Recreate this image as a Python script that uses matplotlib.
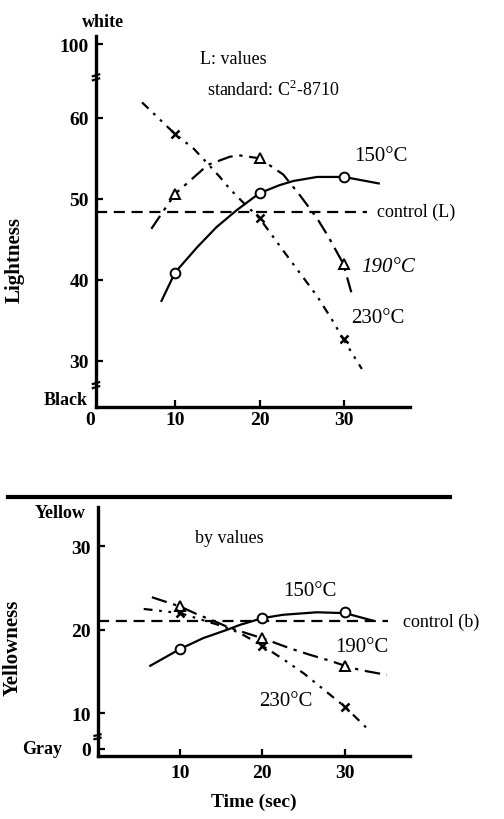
import matplotlib
matplotlib.use("Agg")
import matplotlib.pyplot as plt
from matplotlib.lines import Line2D

plt.rcParams['font.family'] = ['Liberation Serif', 'DejaVu Serif']
plt.rcParams['mathtext.fontset'] = 'custom'
plt.rcParams['mathtext.rm'] = 'Liberation Serif'

# sample times (sec)
t_pts = [10, 20, 30]

# lightness readings
L150 = [40.9, 50.7, 52.7]
L190 = [50.6, 55.0, 42.0]
L230 = [58.0, 47.6, 32.7]
L_control = 48.4

# hand drawn curves through the lightness readings
L150_cx = [8.4, 10, 12.6, 14.9, 17.3, 20, 22.4, 24, 26.8, 30, 34.1]
L150_cy = [37.4, 40.9, 44.0, 46.5, 48.6, 50.7, 51.7, 52.2, 52.7, 52.7, 51.9]
L190_cx = [7.2, 10, 13.9, 16.5, 17.7, 20, 22.8, 24.8, 26.8, 28.1, 29.9, 30.9]
L190_cy = [46.3, 50.6, 54.2, 55.2, 55.35, 55.0, 53.0, 50.4, 47.6, 45.4, 42.0, 38.3]
L230_cx = [6.1, 10, 12.2, 13.9, 15.3, 16.5, 18.3, 20, 21.2, 22.8, 24.8, 26.8, 28.5, 29.9, 32.1]
L230_cy = [61.9, 58.0, 56.2, 54.3, 52.7, 51.2, 49.3, 47.6, 45.9, 43.6, 40.8, 38.0, 35.2, 32.7, 29.0]

# yellowness readings
b150 = [17.7, 21.4, 22.1]
b190 = [22.8, 19.0, 15.7]
b230 = [22.0, 18.1, 10.8]
b_control = 21.0

b150_cx = [6.4, 10, 12.8, 15.7, 17.3, 20, 22.5, 26.6, 30, 33.4]
b150_cy = [15.7, 17.7, 19.0, 20.0, 20.6, 21.4, 21.8, 22.1, 22.0, 21.1]
b190_cx = [6.6, 10, 12.0, 14.5, 16.1, 20, 23.3, 25.8, 28.2, 30, 31.8, 35.1]
b190_cy = [23.9, 22.8, 21.9, 20.9, 20.2, 19.0, 17.8, 17.0, 16.3, 15.7, 15.2, 14.6]
b230_cx = [5.6, 10, 12.0, 15.3, 17.3, 20, 22.5, 25.0, 27.0, 30, 32.8]
b230_cy = [22.5, 22.0, 21.4, 20.4, 19.6, 18.1, 16.5, 14.8, 13.2, 10.8, 8.1]

W, H = 504, 820
fig = plt.figure(figsize=(W / 100, H / 100), dpi=100)


def box(x0, y0, x1, y1):
    return [x0 / W, 1 - y1 / H, (x1 - x0) / W, (y1 - y0) / H]


ax1 = fig.add_axes(box(90.5, 37, 410, 408))
ax2 = fig.add_axes(box(97.5, 508, 410, 757))

lw = 1.6
dash_190 = (0, (7, 3, 1.5, 3))
dash_230 = (0, (4, 3, 1.2, 3, 1.2, 3))
dash_ctl = (0, (5, 3))


def style(ax):
    for s in ('top', 'right'):
        ax.spines[s].set_visible(False)
    for s in ('left', 'bottom'):
        ax.spines[s].set_linewidth(2.4)
    ax.tick_params(direction='in', length=5, width=1.6, labelsize=14, pad=3)
    ax.tick_params(axis='y', pad=5)
    for lab in ax.get_xticklabels() + ax.get_yticklabels():
        lab.set_fontweight('bold')


def axis_break(ax, x, y, h):
    for dy in (-h, h):
        ax.plot([x - 0.5, x + 0.5], [y + dy - h * 0.6, y + dy + h * 0.6], color='k',
                lw=1.6, clip_on=False, solid_capstyle='butt')


# ---- Lightness ----
y0_axis = 0.65
ax1.set_xlim(0, 37.8)
ax1.set_ylim(24.3, 70.1)
ax1.spines['left'].set_position(('data', y0_axis))
ax1.spines['bottom'].set_bounds(y0_axis, 37.8)
ax1.plot(L150_cx, L150_cy, color='k', lw=lw)
ax1.plot(L190_cx, L190_cy, color='k', lw=lw, linestyle=dash_190)
ax1.plot(L230_cx, L230_cy, color='k', lw=lw, linestyle=dash_230)
ax1.plot([y0_axis, 32.7], [L_control, L_control], color='k', lw=lw, linestyle=dash_ctl)
ax1.plot(t_pts, L150, 'o', mfc='white', mec='k', ms=7, mew=1.4)
ax1.plot(t_pts, L190, '^', mfc='white', mec='k', ms=7, mew=1.4)
ax1.plot(t_pts, L230, 'x', color='k', ms=6, mew=1.8)
ax1.set_xticks([0, 10, 20, 30])
ax1.set_xticklabels(['0', '10', '20', '30'])
ax1.set_yticks([30, 40, 50, 60, 69.1])
ax1.set_yticklabels(['30', '40', '50', '60', '100'])
style(ax1)
ax1.xaxis.get_major_ticks()[0].tick1line.set_visible(False)
axis_break(ax1, y0_axis, 65.0, 0.25)
axis_break(ax1, y0_axis, 27.0, 0.25)
ax1.text(-0.3, 25.2, 'Black', ha='right', va='center', fontsize=13, fontweight='bold')
ax1.text(1.5, 71.9, 'white', ha='center', va='center', fontsize=13, fontweight='bold')
ax1.text(13.0, 67.3, 'L: values', fontsize=13, va='center')
ax1.text(13.8, 63.6, 'standard: C$^{2}$-8710', fontsize=13, va='center')
ax1.text(34.4, 55.3, '150°C', fontsize=15, ha='center', va='center')
ax1.text(35.2, 41.6, '190°C', fontsize=15, ha='center', va='center', style='italic')
ax1.text(34.0, 35.4, '230°C', fontsize=15, ha='center', va='center')
ax1.text(33.9, L_control, 'control (L)', fontsize=13, va='center')
ax1.set_ylabel('Lightness', fontsize=15, fontweight='bold')
ax1.yaxis.set_label_coords(-0.205, 0.4)

# ---- Yellowness ----
ax2.set_xlim(0, 37.9)
ax2.set_ylim(4.9, 34.7)
ax2.plot(b150_cx, b150_cy, color='k', lw=lw)
ax2.plot(b190_cx, b190_cy, color='k', lw=lw, linestyle=dash_190)
ax2.plot(b230_cx, b230_cy, color='k', lw=lw, linestyle=dash_230)
ax2.plot([0, 35.2], [b_control, b_control], color='k', lw=lw, linestyle=dash_ctl)
ax2.plot(t_pts, b150, 'o', mfc='white', mec='k', ms=7, mew=1.4)
ax2.plot(t_pts, b190, '^', mfc='white', mec='k', ms=7, mew=1.4)
ax2.plot(t_pts, b230, 'x', color='k', ms=6, mew=1.8)
ax2.set_xticks([10, 20, 30])
ax2.set_xticklabels(['10', '20', '30'])
ax2.set_yticks([5.75, 10, 20, 30])
ax2.set_yticklabels(['0', '10', '20', '30'])
style(ax2)
ax2.tick_params(axis='x', pad=6)
axis_break(ax2, 0, 7.2, 0.2)
ax2.text(-4.3, 5.75, 'Gray', ha='right', va='center', fontsize=13, fontweight='bold')
ax2.text(-1.5, 34.1, 'Yellow', ha='right', va='center', fontsize=13, fontweight='bold')
ax2.text(11.8, 31.1, 'by values', fontsize=13, va='center')
ax2.text(25.8, 24.7, '150°C', fontsize=15, ha='center', va='center')
ax2.text(32.1, 18.0, '190°C', fontsize=15, ha='center', va='center')
ax2.text(22.8, 11.5, '230°C', fontsize=15, ha='center', va='center')
ax2.text(37.0, b_control, 'control (b)', fontsize=13, va='center')
ax2.set_ylabel('Yellowness', fontsize=15, fontweight='bold')
ax2.yaxis.set_label_coords(-0.24, 0.44)
ax2.set_xlabel('Time (sec)', fontsize=14, fontweight='bold', labelpad=8)

# heavy rule between the two panels
fig.add_artist(Line2D([8 / W, 450 / W], [1 - 498 / H, 1 - 498 / H],
                      color='k', lw=3.0, transform=fig.transFigure))

fig.savefig('out.png', dpi=100)
